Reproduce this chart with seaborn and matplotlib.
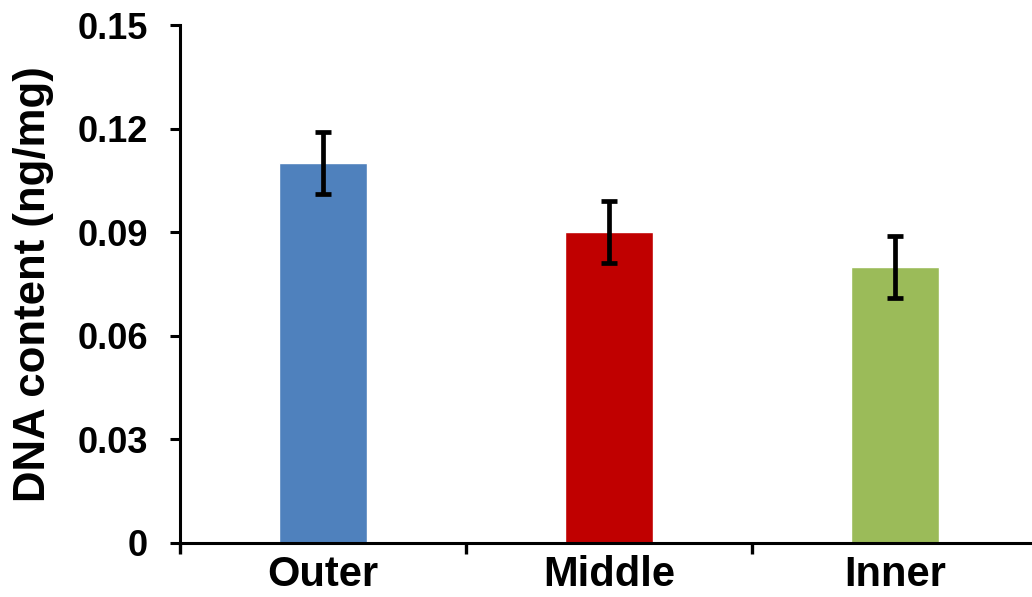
import numpy as np
import pandas as pd
import seaborn as sns
import matplotlib.pyplot as plt

regions = ["Outer", "Middle", "Inner"]
dna = [0.11, 0.09, 0.08]
err = [0.009, 0.009, 0.009]
colors = ["#4F81BD", "#C00000", "#9BBB59"]

df = pd.DataFrame({"region": regions, "dna": dna})

sns.set_style("white", {"text.color": "black", "axes.labelcolor": "black",
                        "xtick.color": "black", "ytick.color": "black",
                        "axes.edgecolor": "black"})
plt.rcParams['font.family'] = ['Liberation Sans', 'DejaVu Sans']

fig = plt.figure(figsize=(10.32, 5.97), dpi=100)
# axes run slightly past the right edge, as in the reference
ax = fig.add_axes([0.1744, 0.0905, 0.8314, 0.8675])

sns.barplot(data=df, x="region", y="dna", hue="region", palette=colors,
            width=0.311, errorbar=None, legend=False, ax=ax, saturation=1)
ax.errorbar(np.arange(len(regions)), dna, yerr=err, fmt="none",
            ecolor="black", elinewidth=3.4, capsize=6, capthick=3.4)

ax.set_ylim(0, 0.15)
ax.set_xlim(-0.5, 2.5)
ax.set_yticks([0, 0.03, 0.06, 0.09, 0.12, 0.15])
ax.set_yticklabels(["0", "0.03", "0.06", "0.09", "0.12", "0.15"],
                   fontsize=26, fontweight="bold")
ax.set_xticks([0, 1, 2])
ax.set_xticklabels(regions, fontsize=30, fontweight="bold")
ax.tick_params(axis="x", which="major", length=0, pad=9)
ax.set_xticks([-0.5, 0.5, 1.5, 2.5], minor=True)
ax.tick_params(axis="x", which="minor", bottom=True, direction="out",
               length=8, width=2.4)
ax.tick_params(axis="y", direction="out", length=7, width=2.2, pad=16, left=True)

ax.set_xlabel("")
ax.set_ylabel("DNA content (ng/mg)", fontsize=31.5, fontweight="bold", labelpad=17)

for s in ["top", "right"]:
    ax.spines[s].set_visible(False)
for s in ["left", "bottom"]:
    ax.spines[s].set_linewidth(2.2)
    ax.spines[s].set_color("black")

plt.savefig("out.png", dpi=100)
